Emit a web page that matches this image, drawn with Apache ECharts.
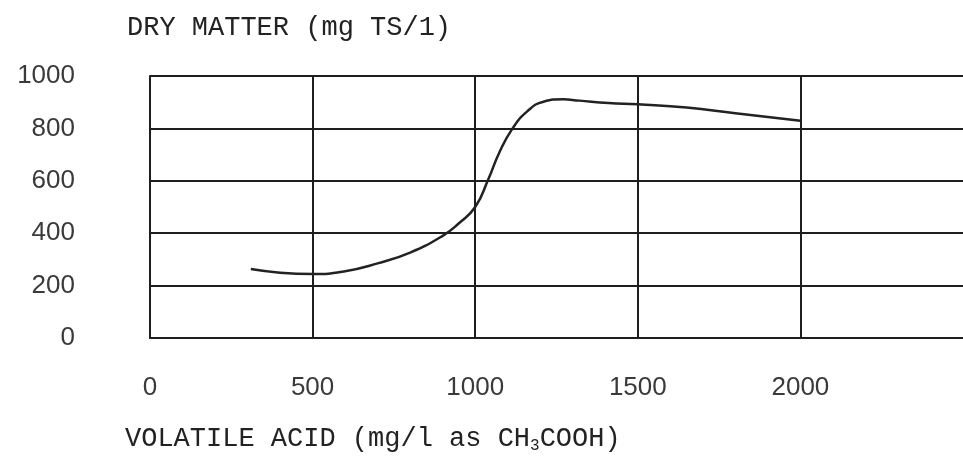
<!DOCTYPE html>
<html>
<head>
<meta charset="utf-8">
<script src="https://cdn.jsdelivr.net/npm/echarts@6/dist/echarts.min.js"></script>
<style>
  html, body { margin: 0; padding: 0; background: #fff; }
  #main { width: 963px; height: 460px; }
</style>
</head>
<body>
<div id="main"></div>
<script>
// volatile acid (mg/l) and dry matter (mg TS/l)
var acidX = [310, 400, 500, 600, 700, 800, 900, 950, 1000, 1040, 1075, 1115, 1160, 1210, 1270, 1320, 1410, 1500, 1650, 1800, 2000];
var dryMatter = [263, 249, 244, 255, 285, 326, 390, 438, 500, 605, 710, 800, 865, 902, 911, 906, 897, 892, 880, 858, 829];
var xTicks = [0, 500, 1000, 1500, 2000];
var yTicks = [0, 200, 400, 600, 800, 1000];

var points = acidX.map(function (x, i) { return [x, dryMatter[i]]; });

var myChart = echarts.init(document.getElementById('main'));

var lineColor = '#1e1e1e';
var mono = '"Courier New", Courier, "Liberation Mono", monospace';
var sans = '"Liberation Sans", Arial, sans-serif';

var option = {
  backgroundColor: '#fff',
  animation: false,
  title: [
    {
      text: 'DRY MATTER (mg TS/1)',
      left: 122,
      top: 9,
      textStyle: { fontFamily: mono, fontSize: 27, fontWeight: 'normal', color: '#222' }
    },
    {
      text: 'VOLATILE ACID (mg/l as CH{sub|3}COOH)',
      left: 120,
      top: 419,
      textStyle: {
        fontFamily: mono, fontSize: 27, fontWeight: 'normal', color: '#222',
        rich: {
          sub: { fontFamily: mono, fontSize: 16, color: '#222', padding: [14, 0, 0, 0] }
        }
      }
    }
  ],
  grid: {
    left: 150,
    right: 0,
    top: 76,
    bottom: 122
  },
  xAxis: {
    type: 'value',
    min: 0,
    max: 2500,
    interval: 500,
    axisLine: { show: true, lineStyle: { color: lineColor, width: 2 } },
    axisTick: { show: false },
    splitLine: { show: true, showMaxLine: false, lineStyle: { color: lineColor, width: 2 } },
    axisLabel: {
      margin: 37,
      fontFamily: sans,
      fontSize: 26,
      color: '#3a3a3a',
      showMaxLabel: false,
      formatter: function (v) { return xTicks.indexOf(v) >= 0 ? String(v) : ''; }
    }
  },
  yAxis: {
    type: 'value',
    min: 0,
    max: 1000,
    interval: 200,
    axisLine: { show: true, lineStyle: { color: lineColor, width: 2 } },
    axisTick: { show: false },
    splitLine: { show: true, lineStyle: { color: lineColor, width: 2 } },
    axisLabel: {
      margin: 75,
      fontFamily: sans,
      fontSize: 26,
      color: '#3a3a3a',
      formatter: function (v) { return yTicks.indexOf(v) >= 0 ? String(v) : ''; }
    }
  },
  series: [
    {
      type: 'line',
      data: points,
      smooth: 0.5,
      symbol: 'none',
      lineStyle: { color: '#222', width: 2.5 }
    }
  ]
};

myChart.setOption(option);
</script>
</body>
</html>
